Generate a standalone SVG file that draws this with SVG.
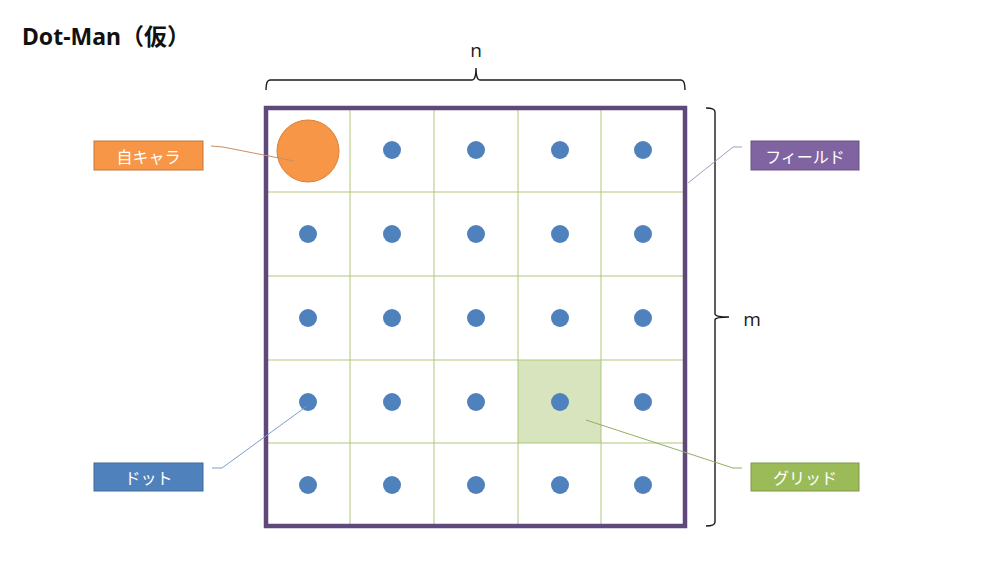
<svg xmlns="http://www.w3.org/2000/svg" width="999" height="562" viewBox="0 0 999 562">
<style>
.grid{stroke:#ADC878;stroke-width:1;fill:none}
.dot{fill:#4F81BD}
.lbl{font-family:"Noto Sans CJK JP","Noto Sans",sans-serif;font-size:16px;fill:#FFFFFF;text-anchor:middle;dominant-baseline:central}
.brace{fill:none;stroke:#1A1A1A;stroke-width:1.4}
.dim{font-family:"Open Sans","Noto Sans",sans-serif;font-size:19px;fill:#1A1A1A;text-anchor:middle}
.lead{fill:none;stroke-width:1}
</style>
<rect width="999" height="562" fill="#FFFFFF"/>
<text x="22" y="45" font-family="'Noto Sans','Noto Sans CJK JP',sans-serif" font-weight="bold" font-size="23" fill="#111">Dot-Man<tspan font-family="'Noto Sans CJK JP',sans-serif">（仮）</tspan></text>

<g id="field">
<rect x="266" y="108" width="419" height="418" fill="#FFFFFF"/>
<rect x="518" y="360" width="83" height="83" fill="#D7E4BD"/>
<g class="grid">
<line x1="350" y1="108" x2="350" y2="526"/>
<line x1="434" y1="108" x2="434" y2="526"/>
<line x1="518" y1="108" x2="518" y2="526"/>
<line x1="601" y1="108" x2="601" y2="526"/>
<line x1="266" y1="192" x2="685" y2="192"/>
<line x1="266" y1="276" x2="685" y2="276"/>
<line x1="266" y1="360" x2="685" y2="360"/>
<line x1="266" y1="443" x2="685" y2="443"/>
</g>
<rect x="266" y="108" width="419" height="418" fill="none" stroke="#5F497A" stroke-width="4.5"/>
</g>

<g id="dots">
<circle class="dot" cx="392" cy="150" r="9"/><circle class="dot" cx="476" cy="150" r="9"/><circle class="dot" cx="560" cy="150" r="9"/><circle class="dot" cx="643" cy="150" r="9"/>
<circle class="dot" cx="308" cy="234" r="9"/><circle class="dot" cx="392" cy="234" r="9"/><circle class="dot" cx="476" cy="234" r="9"/><circle class="dot" cx="560" cy="234" r="9"/><circle class="dot" cx="643" cy="234" r="9"/>
<circle class="dot" cx="308" cy="318" r="9"/><circle class="dot" cx="392" cy="318" r="9"/><circle class="dot" cx="476" cy="318" r="9"/><circle class="dot" cx="560" cy="318" r="9"/><circle class="dot" cx="643" cy="318" r="9"/>
<circle class="dot" cx="308" cy="402" r="9"/><circle class="dot" cx="392" cy="402" r="9"/><circle class="dot" cx="476" cy="402" r="9"/><circle class="dot" cx="560" cy="402" r="9"/><circle class="dot" cx="643" cy="402" r="9"/>
<circle class="dot" cx="308" cy="485" r="9"/><circle class="dot" cx="392" cy="485" r="9"/><circle class="dot" cx="476" cy="485" r="9"/><circle class="dot" cx="560" cy="485" r="9"/><circle class="dot" cx="643" cy="485" r="9"/>
</g>

<g id="player">
<circle cx="308" cy="151" r="31" fill="#F79646" stroke="#D9803A" stroke-width="1"/>
</g>

<g id="brace-n">
<path class="brace" d="M266,90 Q266,80 270,80 L472,80 Q476,80 476,68 Q476,80 480,80 L681,80 Q685,80 685,90"/>
<text class="dim" x="476" y="57">n</text>
</g>
<g id="brace-m">
<path class="brace" d="M706,108 Q715,108 715,112 L715,314 Q715,317 729,317 Q715,317 715,320 L715,522 Q715,526 706,526"/>
<text class="dim" x="752" y="326">m</text>
</g>

<g id="connectors">
<path class="lead" stroke="#C98F63" d="M211,146 L223,147 L294,161"/>
<path class="lead" stroke="#A99BC4" d="M742,147 L733,147 L688,183"/>
<path class="lead" stroke="#7C9DC9" d="M212,468 L222,468 L307,406"/>
<path class="lead" stroke="#93AE62" d="M586,420 L733,468 L742,468"/>
</g>

<g id="label-self">
<rect x="94" y="141" width="109" height="29" fill="#F79646" stroke="#C4763A" stroke-width="1"/>
<text class="lbl" x="148.5" y="155.5">自キャラ</text>
</g>
<g id="label-field">
<rect x="751" y="141" width="108" height="29" fill="#8064A2" stroke="#6A5288" stroke-width="1"/>
<text class="lbl" x="805" y="155.5">フィールド</text>
</g>
<g id="label-dot">
<rect x="94" y="463" width="109" height="28" fill="#4F81BD" stroke="#3F6A9C" stroke-width="1"/>
<text class="lbl" x="148.5" y="477">ドット</text>
</g>
<g id="label-grid">
<rect x="751" y="463" width="108" height="28" fill="#9BBB59" stroke="#7F9A48" stroke-width="1"/>
<text class="lbl" x="805" y="477">グリッド</text>
</g>
</svg>
